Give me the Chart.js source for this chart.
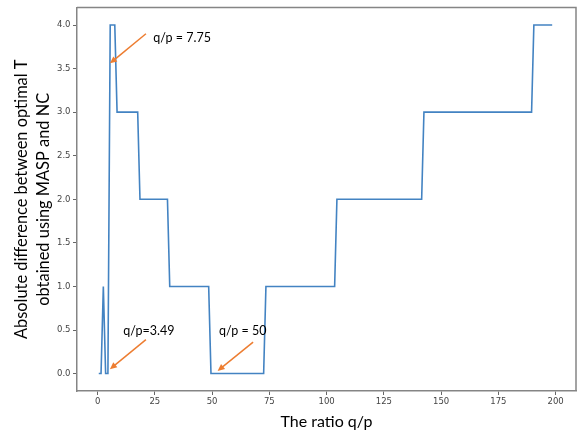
<!DOCTYPE html>
<html><head><meta charset="utf-8">
<script src="https://cdn.jsdelivr.net/npm/chart.js@4/dist/chart.umd.min.js"></script>
<style>html,body{margin:0;padding:0;background:#fff}</style>
</head><body>
<canvas id="c" width="584" height="436"></canvas>
<script>
// ---- data ----
const ratioQP = [0.5, 1.5, 2.5, 3.5, 4.5, 5.5, 7.5, 8.5, 17.5, 18.5, 30.5, 31.5, 48.5, 49.5, 72.5, 73.5, 103.5, 104.5, 141.5, 142.5, 189.5, 190.5, 198.5];
const absDiff = [0, 0, 1, 0, 0, 4, 4, 3, 3, 2, 2, 1, 1, 0, 0, 1, 1, 2, 2, 3, 3, 4, 4];
const xTickValues = [0, 25, 50, 75, 100, 125, 150, 175, 200];
const yTickValues = [0, 0.5, 1, 1.5, 2, 2.5, 3, 3.5, 4];
const xTitle = 'The ratio q/p';
const yTitle = ['Absolute difference between optimal T', 'obtained using MASP and NC'];
const noteTexts = ['q/p = 7.75', 'q/p=3.49', 'q/p = 50'];
const noteTextAt = [[24.3, 3.85], [11.2, 0.49], [53.0, 0.49]];
const noteTail = [[21.1, 3.90], [21.1, 0.39], [67.9, 0.36]];
const noteHead = [[5.37, 3.56], [5.37, 0.05], [52.4, 0.03]];

const points = ratioQP.map((x, i) => ({x: x, y: absDiff[i]}));
const SPINE = '#858585';
const ORANGE = '#ed7d31';

const framePlugin = {
  id: 'frame',
  afterDraw(chart) {
    const {ctx, chartArea: a} = chart;
    ctx.save();
    ctx.strokeStyle = SPINE;
    ctx.lineWidth = 1.5;
    ctx.beginPath();
    ctx.moveTo(a.left, a.top);
    ctx.lineTo(a.right, a.top);
    ctx.lineTo(a.right, a.bottom);
    ctx.stroke();
    ctx.restore();
  }
};

const notePlugin = {
  id: 'notes',
  afterDatasetsDraw(chart) {
    const {ctx, scales: {x, y}} = chart;
    ctx.save();
    for (let i = 0; i < noteTexts.length; i++) {
      const tx = x.getPixelForValue(noteTail[i][0]), ty = y.getPixelForValue(noteTail[i][1]);
      const hx = x.getPixelForValue(noteHead[i][0]), hy = y.getPixelForValue(noteHead[i][1]);
      const ang = Math.atan2(hy - ty, hx - tx);
      const L = 7, W = 3.2;
      ctx.strokeStyle = ORANGE; ctx.fillStyle = ORANGE; ctx.lineWidth = 1.5;
      ctx.beginPath();
      ctx.moveTo(tx, ty);
      ctx.lineTo(hx - Math.cos(ang) * L * 0.8, hy - Math.sin(ang) * L * 0.8);
      ctx.stroke();
      ctx.beginPath();
      ctx.moveTo(hx, hy);
      ctx.lineTo(hx - Math.cos(ang) * L - Math.sin(ang) * W, hy - Math.sin(ang) * L + Math.cos(ang) * W);
      ctx.lineTo(hx - Math.cos(ang) * L + Math.sin(ang) * W, hy - Math.sin(ang) * L - Math.cos(ang) * W);
      ctx.closePath();
      ctx.fill();
      ctx.fillStyle = '#000';
      ctx.font = '12.5px Lato';
      ctx.textAlign = 'left';
      ctx.textBaseline = 'middle';
      ctx.fillText(noteTexts[i], x.getPixelForValue(noteTextAt[i][0]), y.getPixelForValue(noteTextAt[i][1]));
    }
    ctx.restore();
  }
};

new Chart(document.getElementById('c'), {
  type: 'line',
  data: {
    datasets: [{
      data: points,
      borderColor: '#4383c2',
      borderWidth: 1.6,
      pointRadius: 0,
      tension: 0,
      fill: false
    }]
  },
  options: {
    responsive: false,
    animation: false,
    devicePixelRatio: 1,
    layout: {padding: {left: 0, top: 1, right: 8, bottom: 0}},
    plugins: {legend: {display: false}, tooltip: {enabled: false}},
    scales: {
      x: {
        type: 'linear',
        min: -9.0,
        max: 208.9,
        afterBuildTicks: s => { s.ticks = xTickValues.map(v => ({value: v})); },
        afterFit: s => { s.height = 45; },
        grid: {display: true, drawOnChartArea: false, drawTicks: true, tickLength: 4, color: '#666', lineWidth: 1},
        border: {display: true, color: SPINE, width: 1.5},
        ticks: {font: {family: 'DejaVu Sans', size: 8.5}, color: '#444', padding: 2, maxRotation: 0, autoSkip: false,
                callback: v => String(v)},
        title: {display: true, text: xTitle, color: '#000', font: {family: 'Lato', size: 16, lineHeight: 1.3},
                padding: {top: 0, bottom: 4}}
      },
      y: {
        type: 'linear',
        min: -0.2,
        max: 4.2,
        afterBuildTicks: s => { s.ticks = yTickValues.map(v => ({value: v})); },
        afterFit: s => { s.width = 77; },
        grid: {display: true, drawOnChartArea: false, drawTicks: true, tickLength: 4, color: '#666', lineWidth: 1},
        border: {display: true, color: SPINE, width: 1.5},
        ticks: {font: {family: 'DejaVu Sans', size: 8.5}, color: '#444', padding: 2.5, autoSkip: false,
                callback: v => Number(v).toFixed(1)},
        title: {display: true, text: yTitle, color: '#000', font: {family: 'Lato', size: 16.4, lineHeight: 1.3},
                padding: {top: 11.4, bottom: 0}}
      }
    }
  },
  plugins: [framePlugin, notePlugin]
});
</script>
</body></html>
